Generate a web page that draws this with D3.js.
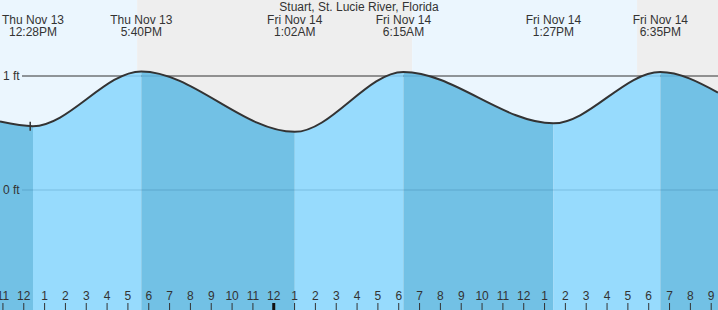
<!DOCTYPE html>
<html>
<head>
<meta charset="utf-8">
<script src="https://cdn.jsdelivr.net/npm/d3@7"></script>
<style>
  html, body { margin: 0; padding: 0; background: #fff; }
  svg { display: block; }
  text { font-family: "Liberation Sans", Arial, sans-serif; font-size: 12px; fill: #333; }
</style>
</head>
<body>
<svg id="chart" width="718" height="310"></svg>
<script>
// ---- data ----
const title = "Stuart, St. Lucie River, Florida";
const tideTimes   = ["2025-11-13T12:28", "2025-11-13T17:40", "2025-11-14T01:02", "2025-11-14T06:15", "2025-11-14T13:27", "2025-11-14T18:35"];
const tideHeights = [0.56, 1.04, 0.51, 1.035, 0.585, 1.035];
const tideTypes   = ["L", "H", "L", "H", "L", "H"];
const edgeTimes   = ["2025-11-13T10:53", "2025-11-14T21:21"];
const edgeHeights = [0.60, 0.855];
const sunsetTimes  = ["2025-11-13T17:28", "2025-11-14T17:28"];
const sunriseTimes = ["2025-11-14T06:40"];
const nowTime = "2025-11-13T12:20";
const nowHeight = 0.56;
const yTicks = [0, 1];
const yTickLabels = ["0 ft", "1 ft"];

// ---- setup ----
const W = 718, H = 310;
const parse = d3.timeParse("%Y-%m-%dT%H:%M");
const svg = d3.select("#chart");

const x = d3.scaleTime()
  .domain([parse(edgeTimes[0]), parse(edgeTimes[1])])
  .range([0, W]);
const y = d3.scaleLinear().domain([0, 1]).range([190, 76]);

const COL_DAY = "#ebf6fe", COL_NIGHT = "#eeeeee";
const COL_RISE = "#97dbfd", COL_FALL = "#72c1e5";

// ---- day / night background ----
const bgBounds = [parse(edgeTimes[0]), parse(sunsetTimes[0]), parse(sunriseTimes[0]), parse(sunsetTimes[1]), parse(edgeTimes[1])];
const bgCols = [COL_DAY, COL_NIGHT, COL_DAY, COL_NIGHT];
svg.append("g").selectAll("rect")
  .data(bgCols)
  .join("rect")
  .attr("x", (d, i) => x(bgBounds[i]))
  .attr("width", (d, i) => x(bgBounds[i + 1]) - x(bgBounds[i]))
  .attr("y", 0).attr("height", H)
  .attr("fill", d => d);

// ---- 1 ft reference line (behind water) ----
svg.append("line")
  .attr("x1", 22).attr("x2", W)
  .attr("y1", y(1)).attr("y2", y(1))
  .attr("stroke", "#333").attr("stroke-width", 1);

// ---- curve points ----
const pts = [{t: parse(edgeTimes[0]), v: edgeHeights[0]}]
  .concat(tideTimes.map((s, i) => ({t: parse(s), v: tideHeights[i]})))
  .concat([{t: parse(edgeTimes[1]), v: edgeHeights[1]}]);

const area = d3.area().curve(d3.curveMonotoneX)
  .x(d => x(d.t)).y0(H).y1(d => y(d.v));
const line = d3.line().curve(d3.curveMonotoneX)
  .x(d => x(d.t)).y(d => y(d.v));

svg.append("clipPath").attr("id", "water")
  .append("path").attr("d", area(pts));

// water segments: rising (low -> high) light, falling dark
const segBounds = [parse(edgeTimes[0])].concat(tideTimes.map(parse)).concat([parse(edgeTimes[1])]);
const segCols = [];
for (let i = 0; i < segBounds.length - 1; i++) {
  // segment i ends at tide i (if exists)
  const endType = i < tideTypes.length ? tideTypes[i] : (tideTypes[tideTypes.length - 1] === "H" ? "L" : "H");
  segCols.push(endType === "H" ? COL_RISE : COL_FALL);
}
const wg = svg.append("g").attr("clip-path", "url(#water)");
wg.selectAll("rect")
  .data(segCols)
  .join("rect")
  .attr("x", (d, i) => x(segBounds[i]))
  .attr("width", (d, i) => x(segBounds[i + 1]) - x(segBounds[i]))
  .attr("y", 0).attr("height", H)
  .attr("fill", d => d);
// faint grid lines on the water
wg.selectAll("line")
  .data(yTicks)
  .join("line")
  .attr("x1", 22).attr("x2", W)
  .attr("y1", d => y(d)).attr("y2", d => y(d))
  .attr("stroke", "rgba(20,80,130,0.22)").attr("stroke-width", 1);

// ---- tide curve ----
svg.append("path")
  .attr("d", line(pts))
  .attr("fill", "none")
  .attr("stroke", "#333")
  .attr("stroke-width", 2);

// ---- current time marker ----
svg.append("line")
  .attr("x1", x(parse(nowTime))).attr("x2", x(parse(nowTime)))
  .attr("y1", y(nowHeight) - 4.5).attr("y2", y(nowHeight) + 4.5)
  .attr("stroke", "#333").attr("stroke-width", 1.5);

// ---- y labels ----
svg.append("g").selectAll("text")
  .data(yTicks)
  .join("text")
  .attr("x", 3)
  .attr("y", d => y(d) + 4)
  .text((d, i) => yTickLabels[i]);

// ---- title ----
svg.append("text")
  .attr("x", 359).attr("y", 11)
  .attr("text-anchor", "middle")
  .text(title);

// ---- tide event labels ----
const fDate = d3.timeFormat("%a %b %-d");
const fTime = d3.timeFormat("%-I:%M%p");
const lg = svg.append("g").selectAll("g")
  .data(tideTimes.map(parse))
  .join("g")
  .attr("transform", d => `translate(${x(d)},0)`);
lg.append("text").attr("y", 24).attr("text-anchor", "middle").text(d => fDate(d));
lg.append("text").attr("y", 36).attr("text-anchor", "middle").text(d => fTime(d));

// ---- hour axis ----
const axis = d3.axisTop(x)
  .ticks(d3.timeHour.every(1))
  .tickFormat(d3.timeFormat("%-I"))
  .tickSizeInner(7).tickSizeOuter(0)
  .tickPadding(3.5);
const ag = svg.append("g").attr("transform", `translate(0,${H})`).call(axis);
ag.select(".domain").remove();
ag.selectAll(".tick line").attr("stroke", "#333");
ag.selectAll(".tick text")
  .attr("fill", "#333")
  .style("font-family", '"Liberation Sans", Arial, sans-serif')
  .style("font-size", "12px");
ag.selectAll(".tick").filter(d => d.getHours() === 0)
  .select("line").attr("stroke", "#111").attr("stroke-width", 3);
</script>
</body>
</html>
